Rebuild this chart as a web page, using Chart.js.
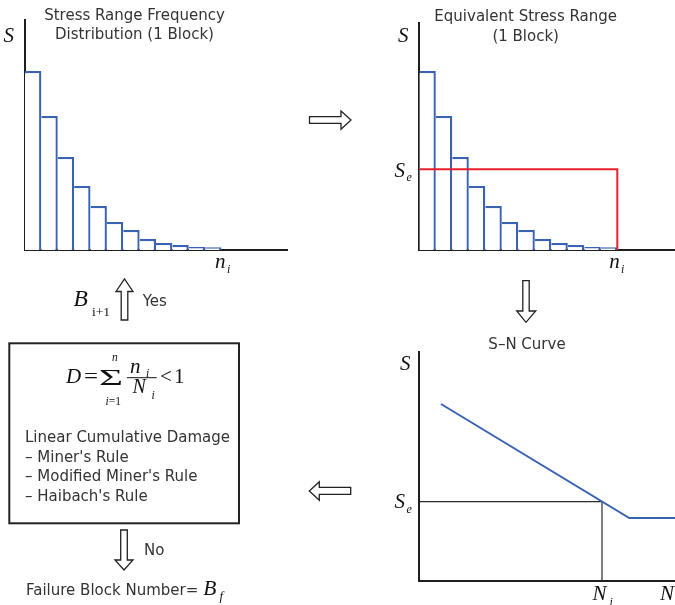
<!DOCTYPE html>
<html lang="en">
<head>
<meta charset="UTF-8">
<title>Fatigue damage procedure</title>
<script src="https://cdn.jsdelivr.net/npm/chart.js"></script>
<style>
html, body {
    margin: 0;
    padding: 0;
    background: #fff;
}

body {
    width: 675px;
    height: 605px;
    position: relative;
    overflow: hidden;
}

canvas {
    position: absolute;
}

#overlay {
    position: absolute;
    left: 0;
    top: 0;
}

.sans {
    font-family: 'DejaVu Sans', sans-serif;
    font-size: 15px;
    fill: #333;
}

.math {
    font-family: 'Liberation Serif', 'Times New Roman', serif;
    font-style: italic;
    fill: #111;
}

.roman {
    font-family: 'Liberation Serif', 'Times New Roman', serif;
    fill: #111;
}

.arrow {
    fill: #fff;
    stroke: #222;
    stroke-width: 1.3;
}
</style>
</head>
<body>
<canvas id="histA" width="300" height="270" style="left:0;top:0"></canvas>
<canvas id="histB" width="310" height="270" style="left:380px;top:0"></canvas>
<canvas id="snCurve" width="300" height="285" style="left:380px;top:320px"></canvas>

<svg id="overlay" width="675" height="605">
    <!-- titles -->
    <text class="sans" x="134.5" y="20.3" text-anchor="middle">Stress Range Frequency</text>
    <text class="sans" x="134.5" y="38.5" text-anchor="middle">Distribution (1 Block)</text>
    <text class="sans" x="525.7" y="20.7" text-anchor="middle">Equivalent Stress Range</text>
    <text class="sans" x="525.7" y="40.5" text-anchor="middle">(1 Block)</text>
    <text class="sans" x="527" y="349.3" text-anchor="middle">S–N Curve</text>

    <!-- axis symbols -->
    <text class="math" x="3.5" y="42" font-size="21">S</text>
    <text class="math" x="215" y="268" font-size="21">n</text>
    <text class="math" x="227" y="272.5" font-size="12">i</text>

    <text class="math" x="398" y="42" font-size="21">S</text>
    <text class="math" x="394.5" y="177" font-size="21">S</text>
    <text class="math" x="406.5" y="181" font-size="12">e</text>
    <text class="math" x="609.3" y="268" font-size="21">n</text>
    <text class="math" x="621" y="272.5" font-size="12">i</text>

    <text class="math" x="400" y="370" font-size="21">S</text>
    <text class="math" x="394.5" y="508.3" font-size="21">S</text>
    <text class="math" x="406.5" y="512.5" font-size="12">e</text>
    <text class="math" x="592.5" y="600" font-size="21">N</text>
    <text class="math" x="609.5" y="605.5" font-size="12">i</text>
    <text class="math" x="660" y="600" font-size="21">N</text>

    <!-- flow arrows -->
    <polygon class="arrow" points="309.5,116.7 341,116.7 341,111 351,120 341,129.3 341,123.3 309.5,123.3"/>
    <polygon class="arrow" points="522.8,280.7 529.2,280.7 529.2,311 535.7,311 526,322.3 516.7,311 522.8,311"/>
    <polygon class="arrow" points="350.7,487.3 319.3,487.3 319.3,481.7 309.3,491 319.3,500.3 319.3,494.3 350.7,494.3"/>
    <polygon class="arrow" points="121.2,320 121.2,291.5 116,291.5 124.5,279 133,291.5 127.8,291.5 127.8,320"/>
    <polygon class="arrow" points="120.7,530 127.3,530 127.3,560 133,560 124,570 115,560 120.7,560"/>

    <text class="math" x="73.5" y="305.5" font-size="23.5">B</text>
    <text class="roman" x="92" y="316" font-size="13.5">i+1</text>
    <text class="sans" x="142.7" y="306">Yes</text>
    <text class="sans" x="144" y="555">No</text>

    <!-- damage box -->
    <rect x="9.3" y="343.3" width="229.7" height="180" fill="none" stroke="#222" stroke-width="2"/>
    <text class="math" x="66" y="383" font-size="21">D</text>
    <text class="roman" x="84" y="383" font-size="21" textLength="14" lengthAdjust="spacingAndGlyphs">=</text>
    <text class="roman" x="99" y="384.5" font-size="24" textLength="24" lengthAdjust="spacingAndGlyphs">Σ</text>
    <text class="math" x="112" y="361" font-size="11.5">n</text>
    <text x="105.5" y="404.5" font-size="11.5"><tspan class="math">i</tspan><tspan class="roman">=1</tspan></text>
    <text class="math" x="130" y="372.5" font-size="21">n</text>
    <text class="math" x="146" y="377" font-size="11.5">i</text>
    <line x1="127" y1="377.7" x2="156.7" y2="377.7" stroke="#111" stroke-width="1"/>
    <text class="math" x="132.5" y="392.5" font-size="20">N</text>
    <text class="math" x="151.5" y="398.5" font-size="11.5">i</text>
    <text class="roman" x="160" y="383" font-size="21">&lt;</text>
    <text class="roman" x="174" y="383" font-size="21">1</text>

    <text class="sans" x="25" y="441.7">Linear Cumulative Damage</text>
    <text class="sans" x="25" y="461.5">– Miner's Rule</text>
    <text class="sans" x="25" y="481.2">– Modified Miner's Rule</text>
    <text class="sans" x="25" y="500.7">– Haibach's Rule</text>

    <text class="sans" x="26" y="595">Failure Block Number=</text>
    <text class="math" x="203.3" y="595" font-size="21.5">B</text>
    <text class="math" x="219.5" y="600" font-size="13">f</text>
</svg>

<script>
// stress range histogram for one block (bin centres on the cycle axis)
const binCenters = [0.5, 1.5, 2.5, 3.5, 4.5, 5.5, 6.5, 7.5, 8.5, 9.5, 10.5, 11.5];
const stressRange = [179, 134, 93, 64, 44, 28, 20, 11, 7, 5, 3, 2.7];

// equivalent stress range block
const equivStress = [80.7, 80.7, 0];
const equivCycles = [0, 12, 12];

// S-N curve and the equivalent point on it
const snCycles = [21.7, 210, 270];
const snStress = [176.7, 62.7, 62.7];
const refCycles = [0, 182.7, 182.7];
const refStress = [79, 79, 0];

const barBlue = '#3a62b3';
const axisColor = '#1e1e1e';

function axis(min, max) {
    return {
        type: 'linear',
        min: min,
        max: max,
        offset: false,
        z: 1,
        ticks: { display: false, stepSize: 1 },
        grid: { display: false, drawTicks: false, offset: false },
        border: { display: true, color: axisColor, width: 2 }
    };
}

function points(xs, ys) {
    return xs.map((x, i) => ({ x: x, y: ys[i] }));
}

function baseOptions(padding, xMax, yMax) {
    const y = axis(0, yMax);
    y.ticks = { display: false };
    return {
        responsive: false,
        animation: false,
        events: [],
        layout: { padding: padding, autoPadding: false },
        plugins: { legend: { display: false }, tooltip: { enabled: false } },
        scales: { x: axis(0, xMax), y: y }
    };
}

function histogramDataset() {
    return {
        type: 'bar',
        data: points(binCenters, stressRange),
        backgroundColor: '#fff',
        borderColor: barBlue,
        borderWidth: { top: 2.3, right: 2.3, left: 0, bottom: 0 },
        borderSkipped: false,
        inflateAmount: 0,
        barPercentage: 1,
        categoryPercentage: 1
    };
}

// left chart: frequency distribution
new Chart(document.getElementById('histA'), {
    type: 'bar',
    data: { datasets: [histogramDataset()] },
    options: baseOptions({ left: 25, top: 20, right: 13, bottom: 20 }, 16, 230)
});

// right chart: same histogram with the equivalent stress block
new Chart(document.getElementById('histB'), {
    type: 'bar',
    data: {
        datasets: [
            {
                type: 'line',
                data: points(equivCycles, equivStress),
                borderColor: '#e8202a',
                borderWidth: 2,
                pointRadius: 0,
                fill: false
            },
            histogramDataset()
        ]
    },
    options: baseOptions({ left: 39.3, top: 22.7, right: 6.7, bottom: 20 }, 16, 227.3)
});

// S-N curve
const snOptions = baseOptions({ left: 39.3, top: 32.3, right: 0, bottom: 24.3 }, 260.7, 228.4);
snOptions.scales.x.ticks = { display: false };
new Chart(document.getElementById('snCurve'), {
    type: 'line',
    data: {
        datasets: [
            {
                data: points(snCycles, snStress),
                borderColor: barBlue,
                borderWidth: 2,
                pointRadius: 0,
                fill: false
            },
            {
                data: points(refCycles, refStress),
                borderColor: '#2a2a2a',
                borderWidth: 1.2,
                pointRadius: 0,
                fill: false
            }
        ]
    },
    options: snOptions
});
</script>
</body>
</html>
